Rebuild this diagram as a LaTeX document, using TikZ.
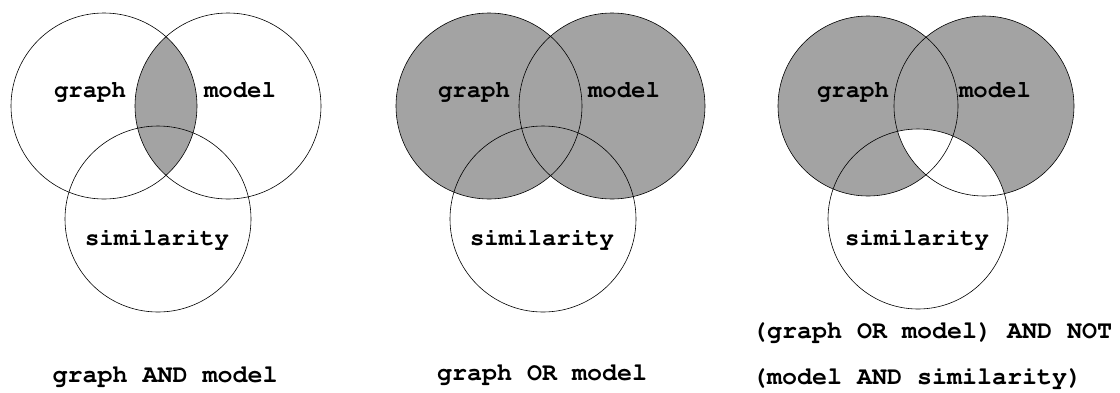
\documentclass[tikz,border=0pt]{standalone}
\usepackage[T1]{fontenc}
\definecolor{venngray}{RGB}{163,163,163}

\begin{document}
\begin{tikzpicture}[x=1pt, y=-1pt]
%define
\tikzstyle{setline} = [draw=black, line width=0.6pt]
\tikzstyle{setfill} = [fill=venngray]
\tikzstyle{setlabel} = [font=\fontfamily{pcr}\fontseries{b}\fontsize{24}{27}\selectfont, inner sep=0pt, anchor=base]
\tikzstyle{caption} = [font=\fontfamily{pcr}\fontseries{b}\fontsize{25}{28}\selectfont, inner sep=0pt, anchor=base]

\useasboundingbox (0,0) rectangle (1120,392);

% graph AND model
\coordinate (graph_A) at (104,106);
\coordinate (model_A) at (228,106);
\coordinate (sim_A) at (158,219);
\begin{scope}
\clip (graph_A) circle (93);
\fill[setfill] (model_A) circle (93);
\end{scope}
\draw[setline] (graph_A) circle (93);
\draw[setline] (model_A) circle (93);
\draw[setline] (sim_A) circle (93);
\node[setlabel](label_graph_A) at (90,97){graph};
\node[setlabel](label_model_A) at (240,97){model};
\node[setlabel](label_sim_A) at (157,245){similarity};
\node[caption](caption_A) at (165,382){graph AND model};

% graph OR model
\coordinate (graph_B) at (489,106);
\coordinate (model_B) at (612,106);
\coordinate (sim_B) at (543,219);
\fill[setfill] (graph_B) circle (93);
\fill[setfill] (model_B) circle (93);
\draw[setline] (graph_B) circle (93);
\draw[setline] (model_B) circle (93);
\draw[setline] (sim_B) circle (93);
\node[setlabel](label_graph_B) at (474,97){graph};
\node[setlabel](label_model_B) at (624,97){model};
\node[setlabel](label_sim_B) at (542,245){similarity};
\node[caption](caption_B) at (542,380){graph OR model};

% (graph OR model) AND NOT (model AND similarity)
\coordinate (graph_C) at (868,106);
\coordinate (model_C) at (984,106);
\coordinate (sim_C) at (918,219);
\fill[setfill] (graph_C) circle (90);
\fill[setfill] (model_C) circle (90);
\begin{scope}
\clip (model_C) circle (90);
\fill[white] (sim_C) circle (90);
\end{scope}
\draw[setline] (graph_C) circle (90);
\draw[setline] (model_C) circle (90);
\draw[setline] (sim_C) circle (90);
\node[setlabel](label_graph_C) at (853,97){graph};
\node[setlabel](label_model_C) at (995,97){model};
\node[setlabel](label_sim_C) at (917,245){similarity};
\node[caption, anchor=base west](caption_C1) at (752,338){(graph OR model) AND NOT};
\node[caption, anchor=base west](caption_C2) at (752,384){(model AND similarity)};

\end{tikzpicture}
\end{document}
